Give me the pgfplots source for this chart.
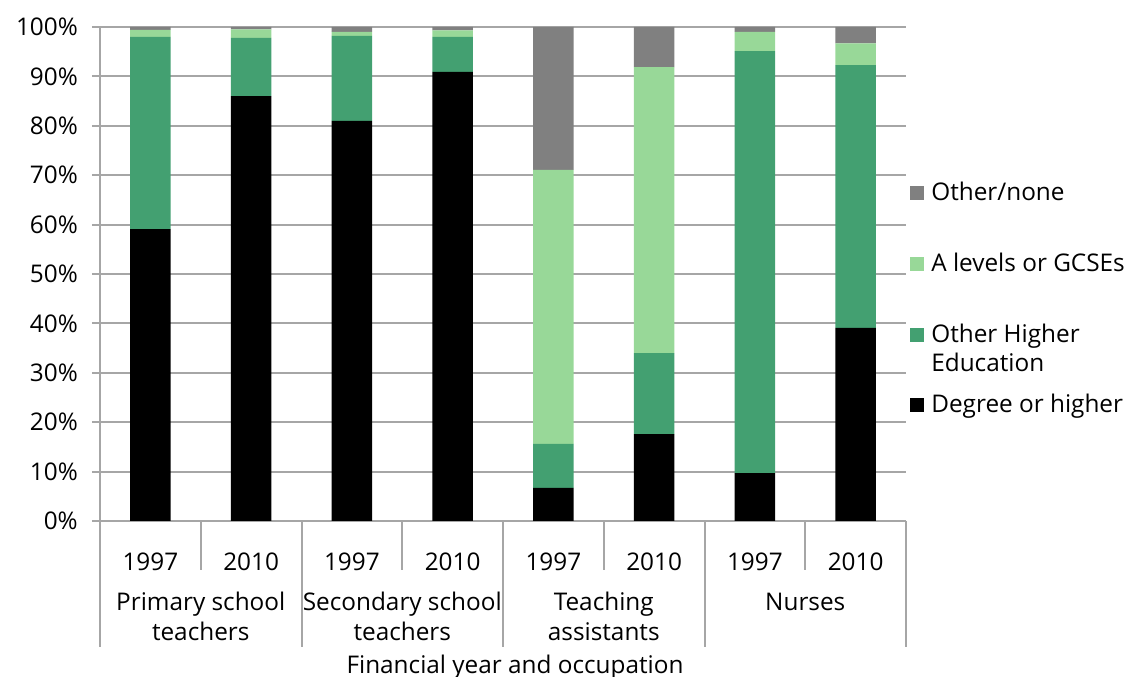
\documentclass[border=0pt]{standalone}
\usepackage{fontspec}
\setmainfont{Open Sans}
\usepackage{pgfplots}
\usepackage{pgfplotstable}
\pgfplotsset{compat=1.18}
\usetikzlibrary{calc}

\definecolor{degree}{HTML}{000000}
\definecolor{otherhe}{HTML}{43A071}
\definecolor{alevel}{HTML}{98D898}
\definecolor{othernone}{HTML}{808080}
\definecolor{gridgray}{HTML}{A6A6A6}

% x: 0..7 = Primary 97/10, Secondary 97/10, TAs 97/10, Nurses 97/10
\pgfplotstableread{
x degree otherhe alevel other
0 59.1 38.9 1.4 0.6
1 86.0 11.8 1.7 0.5
2 81.0 17.2 0.8 1.0
3 90.9  7.1 1.3 0.7
4  6.7  8.9 55.5 28.9
5 17.6 16.4 57.9 8.1
6  9.7 85.4 3.9 1.0
7 39.1 53.2 4.4 3.3
}\shares

\begin{document}
\begin{tikzpicture}[font=\fontsize{14.6}{17.4}\selectfont]
\useasboundingbox (-60pt,-93.6pt) rectangle (616.8pt,312.6pt);
\begin{axis}[
    at={(0,0)}, anchor=south west,
    width=483.6pt, height=296.4pt, scale only axis,
    ybar stacked, bar width=0.4,
    xmin=-0.5, xmax=7.5, ymin=0, ymax=100,
    xtick={0,...,7},
    xticklabels={1997,2010,1997,2010,1997,2010,1997,2010},
    xticklabel style={anchor=base, yshift=-25.2pt},
    major x tick style={draw=none},
    ytick={0,10,...,100},
    yticklabel={\pgfmathprintnumber{\tick}\%},
    /pgf/number format/assume math mode=true,
    yticklabel style={anchor=east, xshift=-5pt},
    tick align=outside, major tick length=4.8pt,
    major y tick style={gridgray, line width=1.2pt},
    ymajorgrids, grid style={gridgray, line width=1.2pt},
    axis x line*=bottom, axis y line*=left,
    axis line style={gridgray, line width=1.2pt, -},
    clip=false,
]
\addplot[fill=degree, draw=none] table[x=x, y=degree] {\shares};
\addplot[fill=otherhe, draw=none] table[x=x, y=otherhe] {\shares};
\addplot[fill=alevel, draw=none] table[x=x, y=alevel] {\shares};
\addplot[fill=othernone, draw=none] table[x=x, y=other] {\shares};
\end{axis}

\begin{scope}[x=0.6pt, y=0.6pt]
  % category separators below the axis
  \foreach \k in {0.5,2.5,4.5,6.5}
    \draw[gridgray, line width=1.2pt] (\k*100.75+50.375,0) -- ++(0,-49);
  \foreach \k in {0,2,4,6,8}
    \draw[gridgray, line width=1.2pt] (\k*100.75,0) -- ++(0,-126);
  % group labels
  \node[anchor=base] at (100.75,-90) {Primary school};
  \node[anchor=base] at (100.75,-119) {teachers};
  \node[anchor=base] at (302.25,-90) {Secondary school};
  \node[anchor=base] at (302.25,-119) {teachers};
  \node[anchor=base] at (503.75,-90) {Teaching};
  \node[anchor=base] at (503.75,-119) {assistants};
  \node[anchor=base] at (705.25,-90) {Nurses};
  \node[anchor=base] at (415,-152) {Financial year and occupation};
  % legend
  \fill[othernone] (810,321) rectangle ++(14,14);
  \node[anchor=base west, inner sep=0pt] at (831,320) {Other/none};
  \fill[alevel] (810,250) rectangle ++(14,14);
  \node[anchor=base west, inner sep=0pt] at (831,249) {A levels or GCSEs};
  \fill[otherhe] (810,179) rectangle ++(14,14);
  \node[anchor=base west, inner sep=0pt] at (831,178) {Other Higher};
  \node[anchor=base west, inner sep=0pt] at (831,149) {Education};
  \fill[degree] (810,109) rectangle ++(14,14);
  \node[anchor=base west, inner sep=0pt] at (831,108) {Degree or higher};
\end{scope}
\end{tikzpicture}
\end{document}
